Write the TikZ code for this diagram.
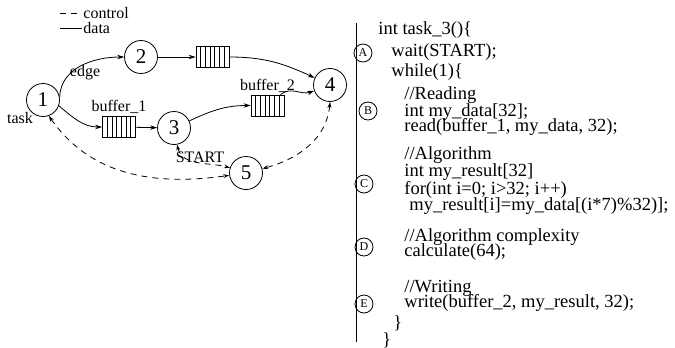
\documentclass[tikz,border=0pt]{standalone}
\usepackage{fontspec}
\setmainfont{Liberation Serif}
\usetikzlibrary{arrows.meta,calc}

\tikzset{
  task/.style={circle, draw, minimum size=33pt, inner sep=0pt, font=\fontsize{21}{21}\selectfont},
  fifo/.style={draw, minimum width=33pt, minimum height=21pt, inner sep=0pt,
    path picture={\foreach \k in {1,...,6}{
      \draw ($(path picture bounding box.south west)!\k/7!(path picture bounding box.south east)$)
        -- ($(path picture bounding box.north west)!\k/7!(path picture bounding box.north east)$);}}},
  data/.style={-{Stealth[length=7pt,width=4.5pt]}},
  ctrl/.style={dash pattern=on 6pt off 5pt, {Stealth[open,length=6pt,width=4pt]}-{Stealth[open,length=6pt,width=4pt]}},
  lbl/.style={font=\fontsize{16}{16}\selectfont, inner sep=1pt},
  code/.style={anchor=west, inner sep=0pt, font=\fontsize{18.5}{16}\selectfont},
  phase/.style={circle, draw, minimum size=18pt, inner sep=0pt, font=\fontsize{12}{12}\selectfont}
}

\begin{document}
\begin{tikzpicture}[x=1pt, y=1pt, line width=0.8pt]
  \useasboundingbox (0,0) rectangle (675,-348);

  % legend
  \node[lbl, anchor=west] (lgctrl) at (82,-13) {control};
  \node[lbl, anchor=west] (lgdata) at (82,-28) {data};
  \coordinate (lc) at (60,-13);
  \coordinate (ld) at (60,-28);
  \draw[dash pattern=on 6pt off 5pt] (lc) -- (lgctrl.west);
  \draw (ld) -- (lgdata.west);

  % tasks
  \node[task] (t1) at (43,-100) {1};
  \node[task] (t2) at (141,-57) {2};
  \node[task] (t3) at (174,-128) {3};
  \node[task] (t4) at (330,-85) {4};
  \node[task] (t5) at (246,-173) {5};

  % buffers
  \node[fifo] (buf0) at (212.5,-57) {};
  \node[fifo] (buf1) at (119,-127) {};
  \node[fifo] (buf2) at (267.5,-105.5) {};

  % labels
  \node[lbl] (edge) at (85,-73) {edge};
  \node[lbl] (task) at (20,-118) {task};
  \node[lbl, above=1pt] (b1lbl) at (buf1.north) {buffer\_1};
  \node[lbl, above=1pt] (b2lbl) at (buf2.north) {buffer\_2};

  % data edges
  \draw[data] (t1.10) to[out=88, in=180] (t2);
  \draw[data] (t2) -- (buf0);
  \draw[data] (buf0) to[out=0, in=155] (t4);
  \draw[data] (t1.-20) to[out=-40, in=180] (buf1);
  \draw[data] (buf1) -- (t3);
  \draw[data] (t3) to[out=25, in=180] (buf2);
  \draw[data] (buf2) to[out=40, in=200] (t4);

  % control edges
  \draw[ctrl] (t4.south) to[out=-95, in=15] (t5);
  \draw[ctrl] (t1.-70) to[out=-55, in=188] (t5.188);
  \draw[ctrl] (t3.-80) to[out=-75, in=165] (t5.162);
  \node[lbl] (start) at (200,-157) {START};

  % code
  \draw (356,-23) -- (356,-342);
  \node[code] (c1) at (378,-30) {int task\_3()\{};
  \node[code] (c2) at (391,-52) {wait(START);};
  \node[code] (c3) at (391,-72) {while(1)\{};
  \node[code] (c4) at (404,-95) {//Reading};
  \node[code] (c5) at (404,-112) {int my\_data[32];};
  \node[code] (c6) at (404,-127) {read(buffer\_1, my\_data, 32);};
  \node[code] (c7) at (404,-155) {//Algorithm};
  \node[code] (c8) at (404,-172) {int my\_result[32]};
  \node[code] (c9) at (404,-190) {for(int i=0; i>32; i++)};
  \node[code] (c10) at (409,-206) {my\_result[i]=my\_data[(i*7)\%32)];};
  \node[code] (c11) at (404,-237) {//Algorithm complexity};
  \node[code] (c12) at (404,-252) {calculate(64);};
  \node[code] (c13) at (404,-288) {//Writing};
  \node[code] (c14) at (404,-303) {write(buffer\_2, my\_result, 32);};
  \node[code] (c15) at (393,-323) {\}};
  \node[code] (c16) at (382,-340) {\}};

  \node[phase] (pa) at (363,-53) {A};
  \node[phase] (pb) at (368,-111) {B};
  \node[phase] (pc) at (364,-184) {C};
  \node[phase] (pd) at (364,-247) {D};
  \node[phase] (pe) at (364,-304) {E};
\end{tikzpicture}
\end{document}
